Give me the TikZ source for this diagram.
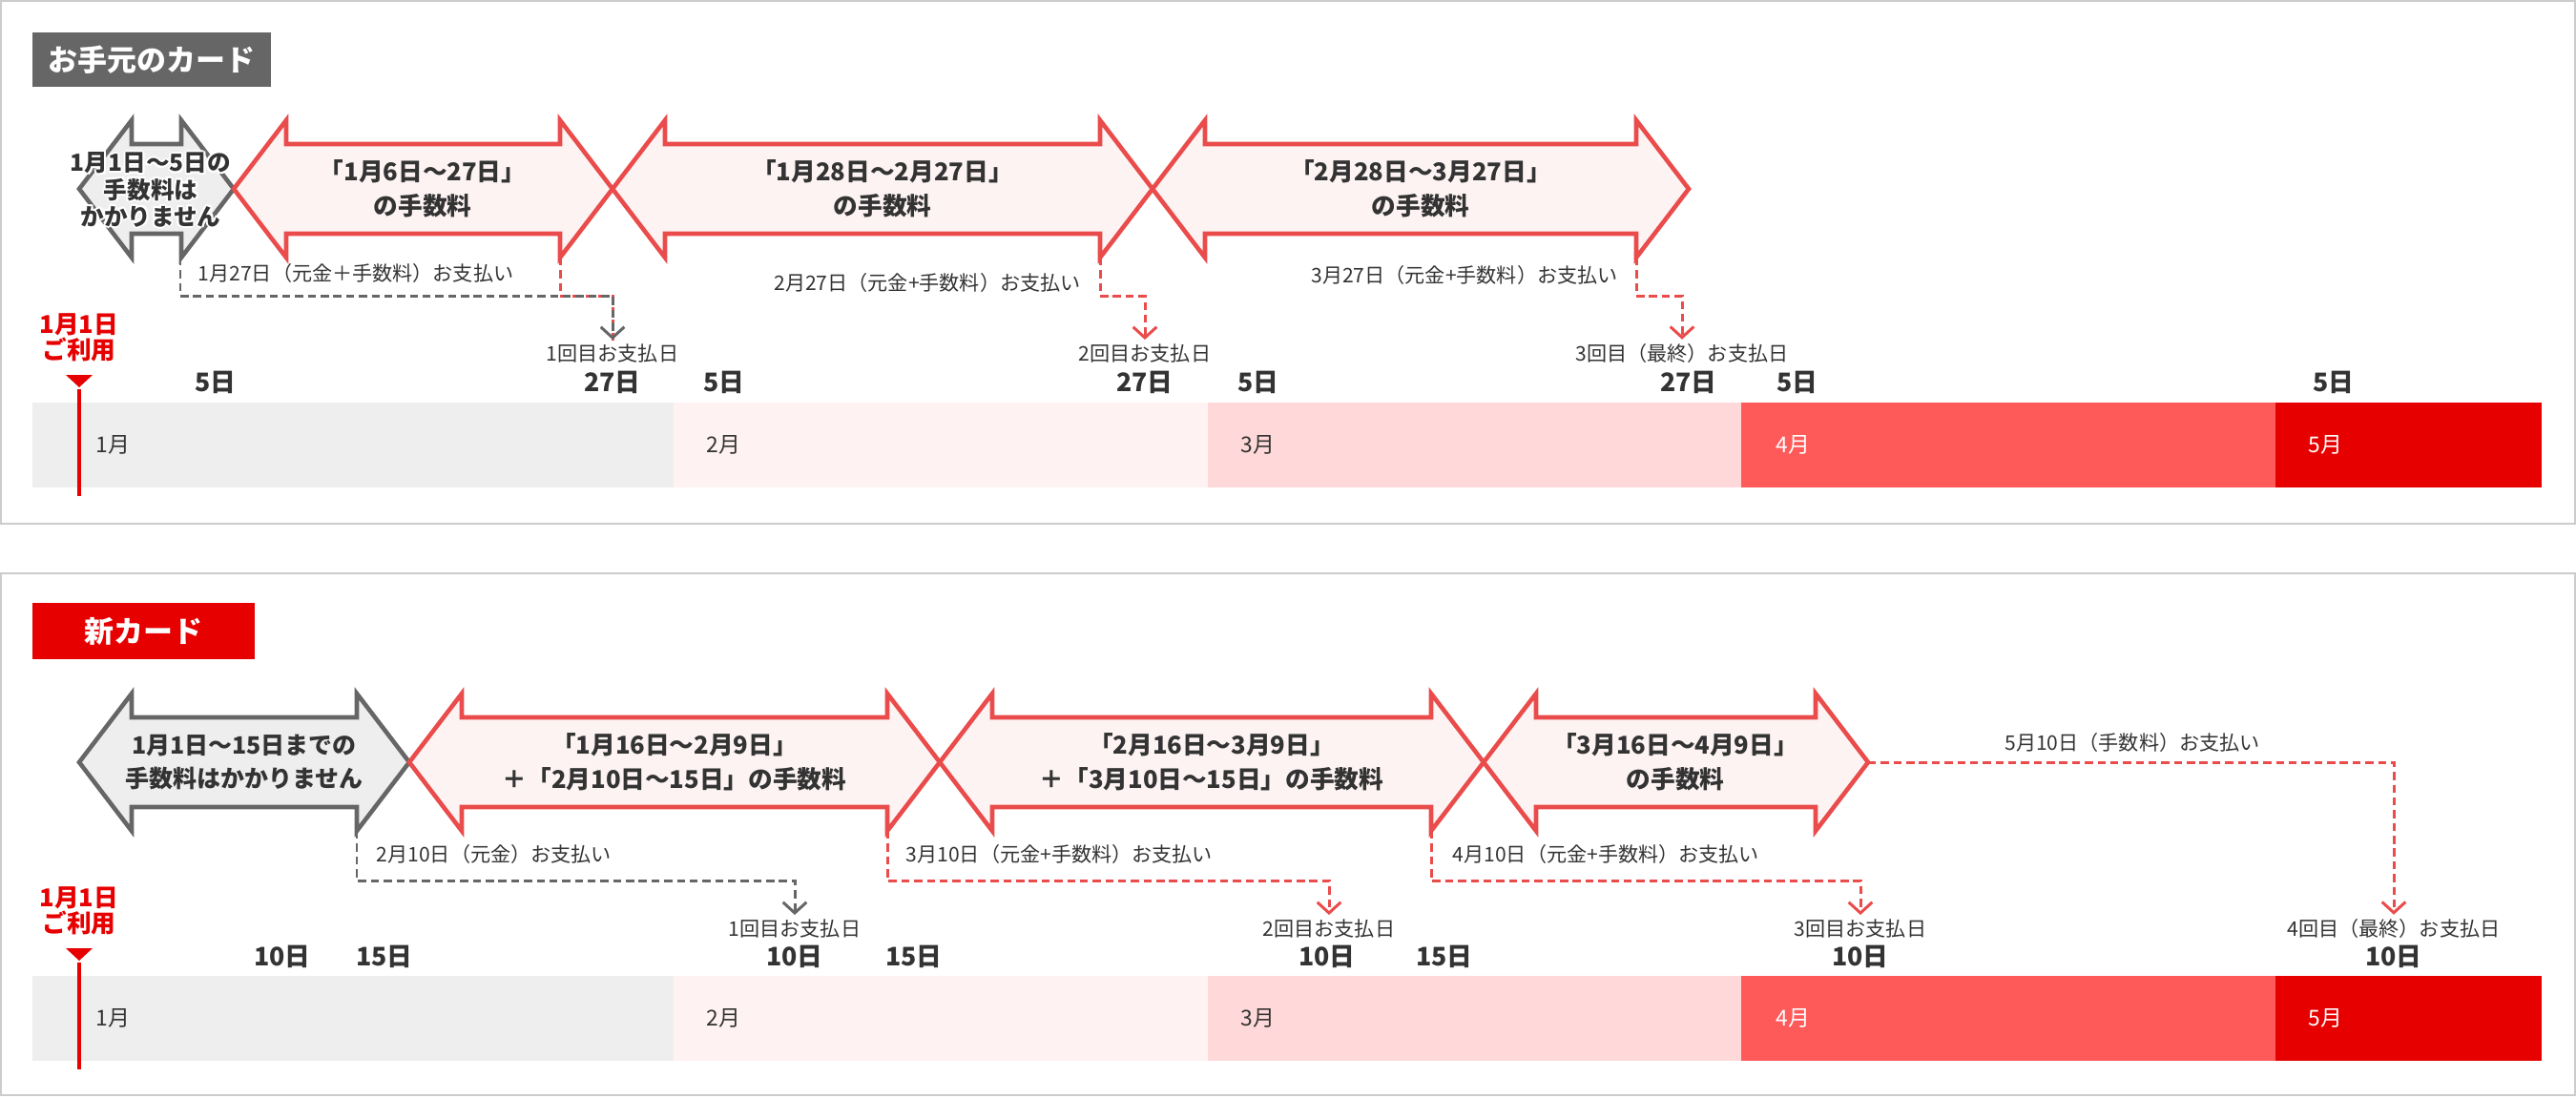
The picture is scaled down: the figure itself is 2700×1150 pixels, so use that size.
\documentclass[tikz,border=0pt]{standalone}
\usepackage{fontspec}
\setmainfont{Noto Sans CJK JP}
\usetikzlibrary{arrows.meta}
\definecolor{cadregris}{HTML}{CCCCCC}
\definecolor{grisfonce}{HTML}{666666}
\definecolor{texte}{HTML}{333333}
\definecolor{rouge}{HTML}{E60000}
\definecolor{rougetrait}{HTML}{EA4B4B}
\definecolor{rosefond}{HTML}{FDF3F3}
\definecolor{grisfond}{HTML}{EEEEEE}
\definecolor{mois1}{HTML}{EEEEEE}
\definecolor{mois2}{HTML}{FFF2F2}
\definecolor{mois3}{HTML}{FFD9D9}
\definecolor{mois4}{HTML}{FF5A5A}
\definecolor{mois5}{HTML}{E60000}
% double fleche : pointe gauche, pointe droite, centre, style
\newcommand{\doublefleche}[4]{%
  \draw[#4] (#1,#3) -- ++(\Tete,-\Hte) -- ++(0,\Hte-\Hfut) -- ({#2-\Tete},{#3-\Hfut})
    -- ++(0,\Hfut-\Hte) -- (#2,#3) -- ++(-\Tete,\Hte) -- ++(0,\Hfut-\Hte)
    -- ({#1+\Tete},{#3+\Hfut}) -- ++(0,\Hte-\Hfut) -- cycle;}
\begin{document}
\begin{tikzpicture}[x=0.01cm,y=-0.01cm]
% Styles
\tikzstyle{cadre}=[draw=cadregris,line width=0.6pt]
\tikzstyle{titre}=[text=white,font=\fontsize{8.8}{10}\selectfont\bfseries,inner sep=0pt]
\tikzstyle{flecherouge}=[draw=rougetrait,fill=rosefond,line width=1.3pt]
\tikzstyle{flechegrise}=[draw=grisfonce,fill=grisfond,line width=1.3pt]
\tikzstyle{txtfleche}=[text=texte,font=\fontsize{7.3}{10.2}\selectfont\bfseries,align=center,inner sep=0pt]
\tikzstyle{txtgris}=[text=texte,font=\fontsize{7}{8}\selectfont\bfseries,align=center,inner sep=0pt]
\tikzstyle{paiement}=[dash pattern=on 2.4pt off 1.4pt,line width=0.85pt]
\tikzstyle{pointe}=[-{Straight Barb[length=3.2pt,width=7pt]},shorten >=1pt]
\tikzstyle{etiq}=[text=texte,font=\fontsize{6}{7}\selectfont,inner sep=0pt]
\tikzstyle{jour}=[text=texte,font=\fontsize{7.6}{8}\selectfont\bfseries,inner sep=0pt]
\tikzstyle{mois}=[font=\fontsize{6.5}{7}\selectfont,anchor=west,inner sep=0pt]
\tikzstyle{usage}=[text=rouge,font=\fontsize{7.3}{7.5}\selectfont\bfseries,align=center,inner sep=0pt]
% Dimensions des fleches
\def\Tete{55}
\def\Hte{72}
\def\Hfut{47}
\useasboundingbox (0,0) rectangle (2700,1150);
% Cadres
\draw[cadre] (1,1) rectangle (2699,549);
\draw[cadre] (1,601) rectangle (2699,1148);
% ===== Carte actuelle =====
\node[titre,fill=grisfonce,minimum width=2.5cm,minimum height=0.57cm] (titre1) at (159,62.5) {お手元のカード};
% Barre des mois
\fill[mois1] (34,422) rectangle (706,511);
\fill[mois2] (706,422) rectangle (1266,511);
\fill[mois3] (1266,422) rectangle (1825,511);
\fill[mois4] (1825,422) rectangle (2385,511);
\fill[mois5] (2385,422) rectangle (2664,511);
\node[mois,text=texte] (ma1) at (100,466) {1月};
\node[mois,text=texte] (ma2) at (740,466) {2月};
\node[mois,text=texte] (ma3) at (1300,466) {3月};
\node[mois,text=white] (ma4) at (1861,466) {4月};
\node[mois,text=white] (ma5) at (2419,466) {5月};
% Date d'utilisation
\node[usage] (usagea) at (83,354) {1月1日\\ご利用};
\fill[rouge] (69,393) -- (97,393) -- (83,406) -- cycle;
\draw[rouge,line width=1pt] (83,408) -- (83,520);
% Jours
\node[jour] (ja1) at (226,401) {5日};
\node[jour] (ja2) at (642,401) {27日};
\node[jour] (ja3) at (759,401) {5日};
\node[jour] (ja4) at (1200,401) {27日};
\node[jour] (ja5) at (1319,401) {5日};
\node[jour] (ja6) at (1770,401) {27日};
\node[jour] (ja7) at (1884,401) {5日};
\node[jour] (ja8) at (2446,401) {5日};
% Fleches des periodes
\doublefleche{83}{245}{198}{flechegrise}
\doublefleche{245}{642}{198}{flecherouge}
\doublefleche{642}{1208}{198}{flecherouge}
\doublefleche{1208}{1770}{198}{flecherouge}
\foreach \dx/\dy [count=\i] in {2/0,-2/0,0/2,0/-2,1.5/1.5,-1.5/1.5,1.5/-1.5,-1.5/-1.5}
  \node[txtgris,text=white] (halo\i) at ({158+\dx},{199+\dy}) {1月1日～5日の\\手数料は\\かかりません};
\node[txtgris] (gratuita) at (158,199) {1月1日～5日の\\手数料は\\かかりません};
\node[txtfleche] (pa1) at (443,198) {「1月6日～27日」\\の手数料};
\node[txtfleche] (pa2) at (925,198) {「1月28日～2月27日」\\の手数料};
\node[txtfleche] (pa3) at (1489,198) {「2月28日～3月27日」\\の手数料};
% Paiements
\node[etiq,anchor=west] (la1) at (207,286) {1月27日（元金＋手数料）お支払い};
\node[etiq] (la2) at (972,296) {2月27日（元金+手数料）お支払い};
\node[etiq] (la3) at (1535,288) {3月27日（元金+手数料）お支払い};
\node[etiq] (paya1) at (642,370) {1回目お支払日};
\node[etiq] (paya2) at (1200,370) {2回目お支払日};
\node[etiq] (paya3) at (1763,370) {3回目（最終）お支払日};
\coordinate (ga) at (189,270);
\coordinate (ra1) at (587,270);
\coordinate (ra2) at (1153,270);
\coordinate (ra3) at (1715,270);
\draw[paiement,draw=rougetrait] (ra1) -- ++(0,40) -| (paya1.north);
\draw[paiement,pointe,draw=grisfonce] (ga) -- ++(0,40) -| (paya1.north);
\draw[paiement,pointe,draw=rougetrait] (ra2) -- ++(0,40) -| (paya2.north);
\draw[paiement,pointe,draw=rougetrait] (ra3) -- ++(0,40) -| (paya3.north);
% ===== Nouvelle carte =====
\node[titre,fill=rouge,minimum width=2.33cm,minimum height=0.59cm] (titre2) at (150.5,661.5) {新カード};
% Barre des mois
\fill[mois1] (34,1023) rectangle (706,1112);
\fill[mois2] (706,1023) rectangle (1266,1112);
\fill[mois3] (1266,1023) rectangle (1825,1112);
\fill[mois4] (1825,1023) rectangle (2385,1112);
\fill[mois5] (2385,1023) rectangle (2664,1112);
\node[mois,text=texte] (mb1) at (100,1067) {1月};
\node[mois,text=texte] (mb2) at (740,1067) {2月};
\node[mois,text=texte] (mb3) at (1300,1067) {3月};
\node[mois,text=white] (mb4) at (1861,1067) {4月};
\node[mois,text=white] (mb5) at (2419,1067) {5月};
% Date d'utilisation
\node[usage] (usageb) at (83,955) {1月1日\\ご利用};
\fill[rouge] (69,994) -- (97,994) -- (83,1007) -- cycle;
\draw[rouge,line width=1pt] (83,1009) -- (83,1121);
% Jours
\node[jour] (jb1) at (296,1003) {10日};
\node[jour] (jb2) at (403,1003) {15日};
\node[jour] (jb3) at (833,1003) {10日};
\node[jour] (jb4) at (958,1003) {15日};
\node[jour] (jb5) at (1391,1003) {10日};
\node[jour] (jb6) at (1514,1003) {15日};
\node[jour] (jb7) at (1950,1003) {10日};
\node[jour] (jb8) at (2509,1003) {10日};
% Fleches des periodes
\doublefleche{83}{429}{799}{flechegrise}
\doublefleche{429}{985}{799}{flecherouge}
\doublefleche{985}{1555}{799}{flecherouge}
\doublefleche{1555}{1958}{799}{flecherouge}
\node[txtgris,font=\fontsize{7.1}{10}\selectfont\bfseries] (gratuitb) at (256,799) {1月1日～15日までの\\手数料はかかりません};
\node[txtfleche] (pb1) at (707,799) {「1月16日～2月9日」\\＋「2月10日～15日」の手数料};
\node[txtfleche] (pb2) at (1270,799) {「2月16日～3月9日」\\＋「3月10日～15日」の手数料};
\node[txtfleche] (pb3) at (1756,799) {「3月16日～4月9日」\\の手数料};
% Paiements
\node[etiq,anchor=west] (lb1) at (394,895) {2月10日（元金）お支払い};
\node[etiq,anchor=west] (lb2) at (949,895) {3月10日（元金+手数料）お支払い};
\node[etiq,anchor=west] (lb3) at (1522,895) {4月10日（元金+手数料）お支払い};
\node[etiq] (lb4) at (2235,778) {5月10日（手数料）お支払い};
\node[etiq] (payb1) at (833,973) {1回目お支払日};
\node[etiq] (payb2) at (1393,973) {2回目お支払日};
\node[etiq] (payb3) at (1950,973) {3回目お支払日};
\node[etiq] (payb4) at (2509,973) {4回目（最終）お支払日};
\coordinate (gb) at (374,871);
\coordinate (rb1) at (930,871);
\coordinate (rb2) at (1500,871);
\coordinate (rb3) at (1958,799);
\draw[paiement,pointe,draw=grisfonce] (gb) -- ++(0,52) -| (payb1.north);
\draw[paiement,pointe,draw=rougetrait] (rb1) -- ++(0,52) -| (payb2.north);
\draw[paiement,pointe,draw=rougetrait] (rb2) -- ++(0,52) -| (payb3.north);
\draw[paiement,pointe,draw=rougetrait] (rb3) -| (payb4.north);
\end{tikzpicture}
\end{document}
